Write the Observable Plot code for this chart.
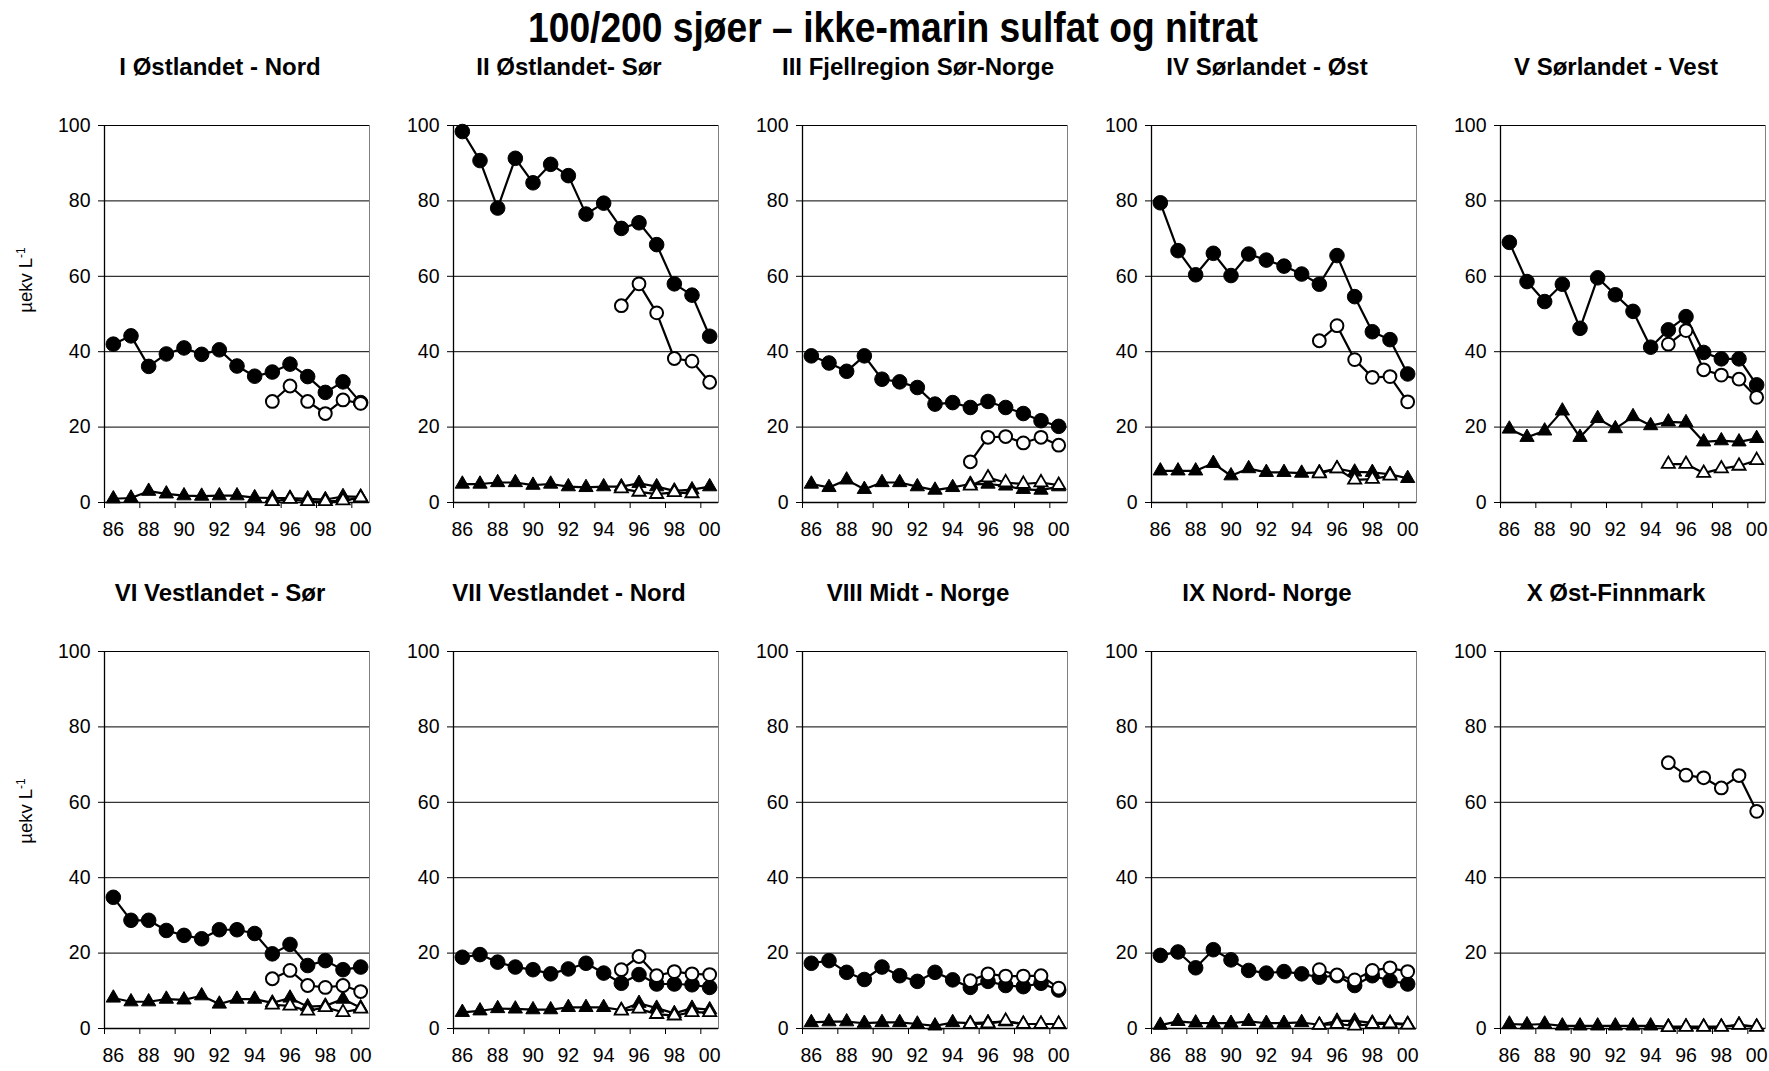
<!DOCTYPE html>
<html>
<head>
<meta charset="utf-8">
<script src="https://cdn.jsdelivr.net/npm/d3@7"></script>
<script src="https://cdn.jsdelivr.net/npm/@observablehq/plot@0.6"></script>
<style>
  html, body { margin: 0; padding: 0; background: #fff; }
  #chart { position: relative; width: 1769px; height: 1071px; font-family: "Liberation Sans", Arial, Helvetica, sans-serif; overflow: hidden; }
  .panel { position: absolute; }
  #title { position: absolute; left: 0; top: 0; }
</style>
</head>
<body>
<div id="chart">
  <svg id="title" width="1769" height="60">
    <text x="893" y="42" text-anchor="middle" font-family="Liberation Sans, Arial, sans-serif" font-size="42" font-weight="bold" textLength="730" lengthAdjust="spacingAndGlyphs">100/200 sjøer – ikke-marin sulfat og nitrat</text>
  </svg>
</div>
<script>
// ---------------- data ----------------
const years = [1986,1987,1988,1989,1990,1991,1992,1993,1994,1995,1996,1997,1998,1999,2000];
const newYears = [1995,1996,1997,1998,1999,2000];
const regions = [
  "I Østlandet - Nord", "II Østlandet- Sør", "III Fjellregion Sør-Norge", "IV Sørlandet - Øst", "V Sørlandet - Vest",
  "VI Vestlandet - Sør", "VII Vestlandet - Nord", "VIII Midt - Norge", "IX Nord- Norge", "X Øst-Finnmark"
];
const yTicks = [0, 20, 40, 60, 80, 100];
const xLabelYears = [1986, 1988, 1990, 1992, 1994, 1996, 1998, 2000];
const yLabel = "µekv L";
const yLabelSup = "-1";

// ikke-marin sulfat, 1986-2000 (filled circles)
const so4Old = [
  [42.0, 44.2, 36.1, 39.4, 41.0, 39.3, 40.5, 36.2, 33.5, 34.6, 36.7, 33.4, 29.2, 32.0, 26.5],
  [98.4, 90.7, 78.1, 91.3, 84.8, 89.7, 86.7, 76.5, 79.4, 72.7, 74.2, 68.4, 58.0, 55.0, 44.1],
  [38.9, 37.0, 34.8, 38.9, 32.7, 32.0, 30.5, 26.1, 26.5, 25.2, 26.8, 25.2, 23.6, 21.7, 20.2],
  [79.5, 66.8, 60.4, 66.1, 60.2, 65.9, 64.3, 62.7, 60.6, 57.9, 65.5, 54.6, 45.3, 43.2, 34.1],
  [69.0, 58.6, 53.3, 57.9, 46.2, 59.6, 55.1, 50.7, 41.2, 45.8, 49.3, 39.8, 38.1, 38.1, 31.2],
  [34.8, 28.7, 28.7, 26.0, 24.7, 23.8, 26.2, 26.2, 25.2, 19.8, 22.3, 16.7, 18.0, 15.6, 16.3],
  [18.9, 19.6, 17.6, 16.3, 15.6, 14.5, 15.8, 17.3, 14.7, 12.0, 14.3, 11.8, 11.8, 11.6, 10.9],
  [17.3, 18.0, 14.9, 13.0, 16.3, 14.0, 12.5, 14.9, 12.9, 10.9, 12.5, 11.4, 11.1, 12.0, 10.2],
  [19.4, 20.3, 16.1, 20.9, 18.2, 15.4, 14.7, 15.1, 14.5, 13.6, 14.0, 11.4, 14.0, 12.7, 11.8],
  [null, null, null, null, null, null, null, null, null, null, null, null, null, null, null]
];
// ikke-marin sulfat, 1995-2000 (open circles)
const so4New = [
  [26.8, 30.9, 26.8, 23.6, 27.2, 26.3],
  [52.2, 58.0, 50.3, 38.2, 37.5, 31.9],
  [10.8, 17.3, 17.5, 15.8, 17.3, 15.2],
  [42.9, 46.9, 37.9, 33.2, 33.4, 26.7],
  [42.0, 45.6, 35.2, 33.8, 32.7, 27.9],
  [13.2, 15.4, 11.4, 10.9, 11.4, 9.8],
  [15.6, 19.1, 14.0, 15.1, 14.5, 14.3],
  [12.7, 14.5, 13.9, 13.9, 14.0, 10.7],
  [15.6, 14.2, 12.9, 15.4, 16.1, 15.1],
  [70.5, 67.2, 66.5, 63.8, 67.1, 57.6]
];
// nitrat, 1986-2000 (filled triangles)
const no3Old = [
  [1.0, 1.2, 3.0, 2.3, 1.8, 1.7, 1.8, 1.8, 1.3, 1.2, 1.2, 1.0, 0.8, 1.6, 1.5],
  [4.9, 4.9, 5.3, 5.3, 4.6, 4.9, 4.2, 4.0, 4.2, 4.2, 5.1, 4.2, 3.1, 3.4, 4.2],
  [4.9, 4.0, 6.0, 3.5, 5.3, 5.3, 4.2, 3.3, 4.0, 4.9, 4.9, 4.4, 3.5, 3.3, 4.2],
  [8.4, 8.4, 8.4, 10.4, 7.1, 9.0, 8.0, 8.0, 7.8, 8.0, 9.0, 8.1, 8.0, 7.5, 6.4],
  [19.5, 17.3, 19.0, 24.3, 17.3, 22.3, 19.6, 22.8, 20.4, 21.4, 21.2, 16.1, 16.4, 16.1, 17.0],
  [8.1, 7.1, 7.1, 7.8, 7.6, 8.7, 6.5, 7.8, 7.8, 6.8, 8.1, 5.8, 6.0, 7.8, 5.5],
  [4.3, 4.7, 5.3, 5.2, 5.0, 5.0, 5.6, 5.6, 5.6, 4.9, 6.7, 5.4, 4.0, 5.4, 5.0],
  [1.6, 1.8, 1.8, 1.4, 1.6, 1.6, 1.2, 0.7, 1.6, 1.4, 1.6, 1.8, 1.2, 1.2, 1.2],
  [0.9, 1.9, 1.5, 1.4, 1.4, 1.9, 1.4, 1.4, 1.6, 1.0, 2.0, 2.0, 1.5, 1.5, 1.2],
  [1.2, 1.0, 1.2, 0.7, 0.7, 0.7, 0.7, 0.7, 0.7, 0.5, 0.5, 0.5, 0.5, 1.0, 0.5]
];
// nitrat, 1995-2000 (open triangles)
const no3New = [
  [0.3, 0.9, 0.3, 0.3, 0.5, 1.3],
  [3.7, 2.8, 2.2, 2.7, 2.4, null],
  [4.4, 6.6, 5.3, 4.9, 5.3, 4.6],
  [7.7, 9.0, 6.0, 6.2, 7.1, null],
  [10.2, 10.2, 7.8, 9.0, 9.7, 11.2],
  [6.3, 6.0, 4.7, 5.6, 4.3, 5.2],
  [4.7, 5.2, 3.8, 3.4, 4.3, 4.3],
  [1.2, 1.3, 2.0, 1.2, 1.2, 1.2],
  [0.9, 1.2, 0.7, 1.2, 1.3, 1.0],
  [0.3, 0.4, 0.4, 0.4, 0.9, 0.4]
];

// ---------------- tidy table ----------------
const rows = [];
regions.forEach((name, k) => {
  years.forEach((yr, i) => {
    if (so4Old[k][i] != null) rows.push({k, s: "so4Old", year: yr, value: so4Old[k][i]});
    if (no3Old[k][i] != null) rows.push({k, s: "no3Old", year: yr, value: no3Old[k][i]});
  });
  newYears.forEach((yr, i) => {
    if (so4New[k][i] != null) rows.push({k, s: "so4New", year: yr, value: so4New[k][i]});
    if (no3New[k][i] != null) rows.push({k, s: "no3New", year: yr, value: no3New[k][i]});
  });
});

// ---------------- styling / layout ----------------
const seriesOrder = ["so4Old", "no3Old", "so4New", "no3New"];
const seriesStyle = {
  so4Old: {symbol: "circle",   r: 7.3, fill: "black", stroke: "black", strokeWidth: 1},
  no3Old: {symbol: "triangle", r: 5.3, fill: "black", stroke: "black", strokeWidth: 1},
  so4New: {symbol: "circle",   r: 6.4, fill: "white", stroke: "black", strokeWidth: 2},
  no3New: {symbol: "triangle", r: 4.9, fill: "white", stroke: "black", strokeWidth: 1.8}
};
const FW = 265, FH = 377, ML = 100, MR = 6, MT = 80, MB = 50;
const colLeft = c => 104 + 349 * c;
const rowTop = r => 125 + 526 * r;
const FONT = "Liberation Sans, Arial, Helvetica, sans-serif";
const xBoundaries = d3.range(1985.5, 2000, 2);
const x0 = years[0] - 0.5, x1 = years[years.length - 1] + 0.5;

const chart = document.getElementById("chart");

regions.forEach((name, k) => {
  const col = k % 5, row = Math.floor(k / 5);
  const data = rows.filter(d => d.k === k);
  const marks = [
    Plot.frame({stroke: "#808080", strokeWidth: 1}),
    Plot.ruleY(yTicks.filter(v => v > 0), {stroke: "#000", strokeWidth: 1}),
    Plot.ruleX([x0], {stroke: "#000", strokeWidth: 1.3}),
    Plot.ruleY([0], {stroke: "#000", strokeWidth: 1.3}),
    Plot.axisY(yTicks, {anchor: "left", tickSize: 6, tickPadding: 8, fontSize: 19.5, label: null, stroke: "#000"}),
    Plot.axisX(xBoundaries, {anchor: "bottom", tickSize: 6, tickFormat: () => "", label: null, stroke: "#000"}),
    Plot.axisX(xLabelYears, {anchor: "bottom", tickSize: 0, tickPadding: 20, fontSize: 19.5, label: null,
      tickFormat: d => String(d).slice(2)}),
    Plot.text([name], {frameAnchor: "top", dx: -17, dy: -51, lineAnchor: "bottom", textAnchor: "middle",
      fontSize: 24, fontWeight: "bold", fill: "#000"})
  ];
  if (col === 0) {
    marks.push(Plot.text([yLabel], {frameAnchor: "left", rotate: -90, dx: -78, dy: row === 0 ? -34 : -29,
      textAnchor: "middle", lineAnchor: "middle", fontSize: 18.5, fill: "#000"}));
  }
  for (const s of seriesOrder) {
    const sd = data.filter(d => d.s === s);
    if (!sd.length) continue;
    const st = seriesStyle[s];
    marks.push(Plot.line(sd, {x: "year", y: "value", stroke: "#000", strokeWidth: 2.2}));
    marks.push(Plot.dot(sd, {x: "year", y: "value", symbol: st.symbol, r: st.r, fill: st.fill,
      stroke: st.stroke, strokeWidth: st.strokeWidth}));
  }
  const svg = Plot.plot({
    width: ML + FW + MR,
    height: MT + FH + MB,
    marginLeft: ML, marginRight: MR, marginTop: MT, marginBottom: MB,
    style: {background: "transparent", fontFamily: FONT, color: "#000", overflow: "visible", maxWidth: "none"},
    x: {domain: [x0, x1], axis: null},
    y: {domain: [0, 100], axis: null},
    marks
  });
  // superscript on y label
  svg.querySelectorAll("text").forEach(t => {
    if (t.textContent === yLabel) {
      const ts = document.createElementNS("http://www.w3.org/2000/svg", "tspan");
      ts.setAttribute("dy", "-7");
      ts.setAttribute("font-size", "12");
      ts.textContent = yLabelSup;
      t.appendChild(ts);
    }
  });
  const div = document.createElement("div");
  div.className = "panel";
  div.style.left = (colLeft(col) - ML) + "px";
  div.style.top = (rowTop(row) - MT) + "px";
  div.appendChild(svg);
  chart.appendChild(div);
});
</script>
</body>
</html>
